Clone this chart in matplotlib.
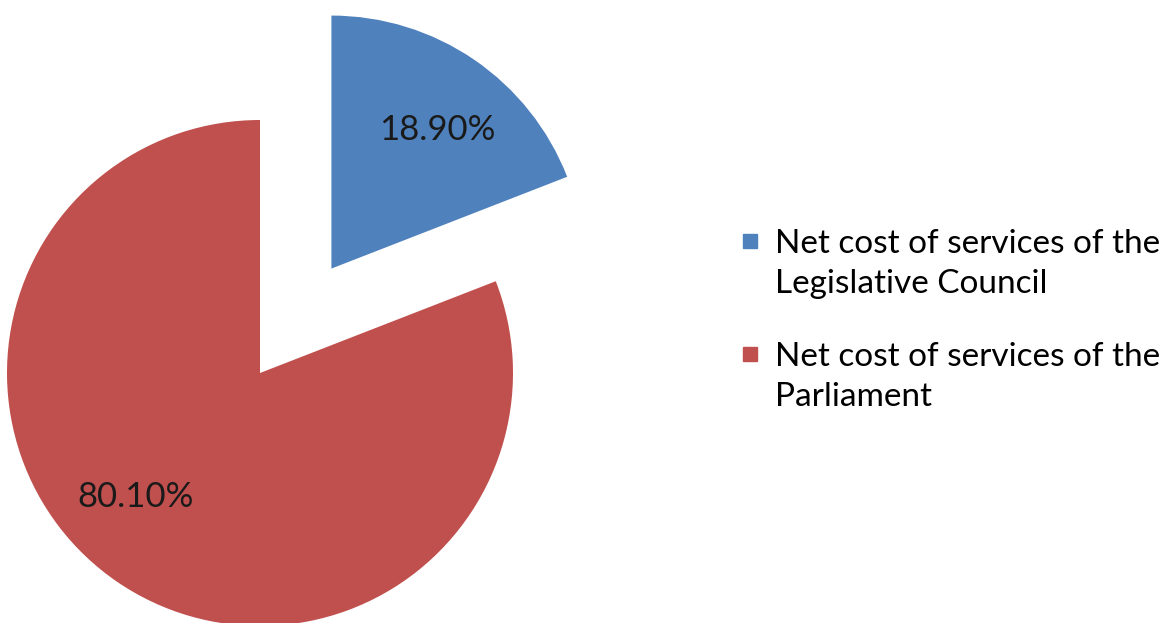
import matplotlib
matplotlib.use("Agg")
import matplotlib.pyplot as plt
from matplotlib.lines import Line2D

# data
categories = ["Net cost of services of the\nLegislative Council",
              "Net cost of services of the\nParliament"]
shares = [18.9, 80.1]
share_labels = ["18.90%", "80.10%"]
colors = ["#4F81BD", "#C0504D"]

plt.rcParams['font.family'] = ['Lato', 'DejaVu Sans']
fontsize = 25
legend_fontsize = 24

W, H = 1172, 623
fig = plt.figure(figsize=(W / 100, H / 100), dpi=100)
ax = fig.add_axes([0, 0, 1, 1])

wedges, texts = ax.pie(shares, colors=colors, explode=[0.5, 0], startangle=90,
                       counterclock=False, labels=share_labels, labeldistance=0.69,
                       wedgeprops=dict(linewidth=0),
                       textprops=dict(fontsize=fontsize, color='#1a1a1a',
                                      ha='center', va='center'))
for t in texts:
	t.set_ha('center')
# Excel puts the labels a little off the mid-angle
texts[0].set_position((0.70, 0.96))
texts[1].set_position((-0.49, -0.49))

# pie centre at (260, 373) px, radius ~253 px
r_px = 253.0
cx, cy = 260.0, 373.0
ax.set_xlim(-cx / r_px, (W - cx) / r_px)
ax.set_ylim(-(H - cy) / r_px, cy / r_px)
ax.set_aspect('auto')
ax.axis('off')

handles = [Line2D([], [], marker='s', linestyle='none', markersize=10,
                  markerfacecolor=c, markeredgecolor=c) for c in colors]
leg = fig.legend(handles, categories, loc='upper left', frameon=False,
                 bbox_to_anchor=(740 / W, 1 - 229 / H), fontsize=legend_fontsize,
                 handlelength=0.6, handletextpad=0.45, labelspacing=1.3,
                 borderpad=0, borderaxespad=0)
for t in leg.get_texts():
	t.set_linespacing(1.42)
# square sits next to the first line of each entry, not the middle
for col in leg._legend_handle_box.get_children():
	for row in col.get_children():
		row.align = 'top'

plt.savefig("out.png", dpi=100)
